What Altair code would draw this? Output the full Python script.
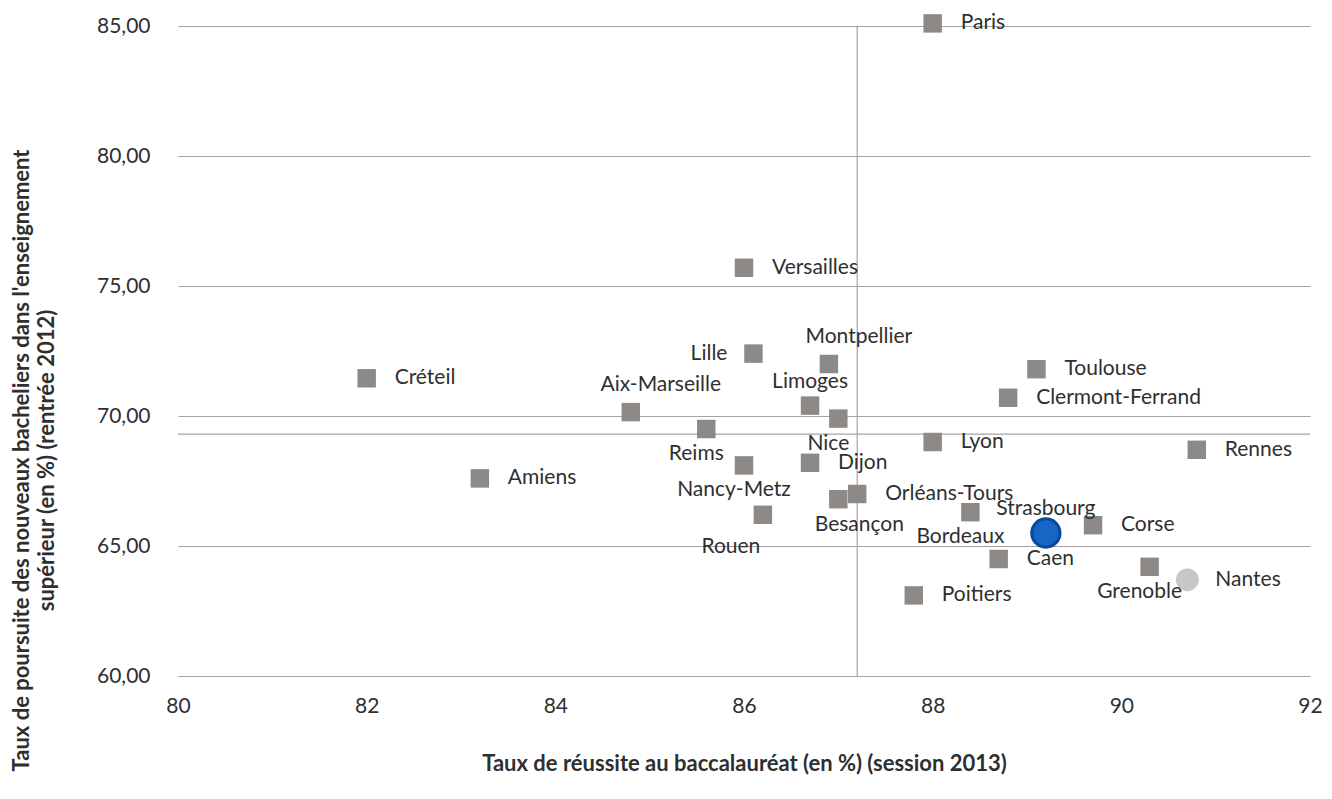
import altair as alt
import pandas as pd

academies = ["Paris", "Versailles", "Montpellier", "Lille", "Créteil", "Aix-Marseille",
             "Limoges", "Nice", "Reims", "Nancy-Metz", "Dijon", "Amiens", "Rouen",
             "Besançon", "Orléans-Tours", "Lyon", "Toulouse", "Clermont-Ferrand",
             "Rennes", "Strasbourg", "Bordeaux", "Caen", "Corse", "Grenoble",
             "Nantes", "Poitiers"]
bac_2013 = [88.0, 86.0, 86.9, 86.1, 82.0, 84.8,
            86.7, 87.0, 85.6, 86.0, 86.7, 83.2, 86.2,
            87.0, 87.2, 88.0, 89.1, 88.8,
            90.8, 89.2, 88.4, 88.7, 89.7, 90.3,
            90.7, 87.8]
poursuite_2012 = [85.1, 75.7, 72.0, 72.4, 71.45, 70.15,
                  70.4, 69.9, 69.5, 68.1, 68.2, 67.6, 66.2,
                  66.8, 67.0, 69.0, 71.8, 70.7,
                  68.7, 65.5, 66.3, 64.5, 65.8, 64.2,
                  63.7, 63.1]
label_side = ["right", "right", "above-right", "left", "right", "above-right",
              "above", "below", "below", "below", "right", "right", "below-left",
              "below-right", "right", "right", "right", "right",
              "right", "above", "below", "right", "right", "below",
              "right", "right"]
marker_kind = ["square"] * 19 + ["focus"] + ["square"] * 4 + ["light"] + ["square"]

mean_bac = 87.2
mean_poursuite = 69.3

x_ticks = [80, 82, 84, 86, 88, 90, 92]
y_ticks = [60, 65, 70, 75, 80, 85]

df = pd.DataFrame({
    "academie": academies,
    "bac": bac_2013,
    "poursuite": poursuite_2012,
    "side": label_side,
    "kind": marker_kind,
})

FONT = "Lato"
GRID = "#a3a3a3"
TXT = "#2f2f2f"

xscale = alt.Scale(domain=[80, 92], nice=False, zero=False)
yscale = alt.Scale(domain=[60, 85], nice=False, zero=False)

base = alt.Chart(df)

x_enc = alt.X("bac:Q", scale=xscale, axis=alt.Axis(
    values=x_ticks, format="d", grid=False, domain=False, ticks=False,
    labelFlush=False, labelOverlap=False,
    labelFont=FONT, labelFontSize=21, labelColor=TXT, labelPadding=19,
    title="Taux de réussite au baccalauréat (en %) (session 2013)",
    titleFont=FONT, titleFontSize=22, titleFontWeight="bold", titleColor=TXT,
    titleY=87, titleBaseline="middle"))
y_enc = alt.Y("poursuite:Q", scale=yscale, axis=alt.Axis(
    values=y_ticks, grid=True, gridColor=GRID, gridWidth=1.2,
    domain=False, ticks=False, labelFlush=False, labelOverlap=False,
    labelFont=FONT, labelFontSize=21, labelColor=TXT, labelPadding=28,
    labelExpr="replace(format(datum.value, '.2f'), '.', ',')",
    title=["Taux de poursuite des nouveaux bacheliers dans l'enseignement",
           "supérieur (en %) (rentrée 2012)"],
    titleFont=FONT, titleFontSize=22, titleFontWeight="bold", titleColor=TXT,
    titleX=-167, titleY=434, titleAngle=-90, titleAlign="center",
    titleBaseline="top", titleLineHeight=25))

vline = alt.Chart(pd.DataFrame({"v": [mean_bac]})).mark_rule(
    color=GRID, strokeWidth=1.2).encode(x=alt.X("v:Q", scale=xscale))
hline = alt.Chart(pd.DataFrame({"v": [mean_poursuite]})).mark_rule(
    color=GRID, strokeWidth=1.2).encode(y=alt.Y("v:Q", scale=yscale))

squares = base.transform_filter(alt.datum.kind != "light").mark_point(
    shape="square", filled=True, size=340, color="#8d8986", opacity=1).encode(
    x=x_enc, y=y_enc)
focus = base.transform_filter(alt.datum.kind == "focus").mark_point(
    shape="circle", filled=True, size=800, fill="#1766c6", stroke="#0b4898",
    strokeWidth=3, opacity=1).encode(x="bac:Q", y="poursuite:Q")
light = base.transform_filter(alt.datum.kind == "light").mark_point(
    shape="circle", filled=True, size=520, color="#c9c7c5", opacity=1).encode(
    x="bac:Q", y="poursuite:Q")

placements = {
    "right": dict(dx=28, dy=0, align="left"),
    "left": dict(dx=-26, dy=0, align="right"),
    "above": dict(dx=0, dy=-24, align="center"),
    "above-right": dict(dx=30, dy=-27, align="center"),
    "below": dict(dx=-10, dy=25, align="center"),
    "below-left": dict(dx=-32, dy=32, align="center"),
    "below-right": dict(dx=21, dy=26, align="center"),
}

label_layers = []
for side, opts in placements.items():
    label_layers.append(
        base.transform_filter(alt.datum.side == side).mark_text(
            font=FONT, fontSize=21, color=TXT, baseline="middle", **opts
        ).encode(x="bac:Q", y="poursuite:Q", text="academie:N")
    )

chart = alt.layer(vline, hline, squares, light, focus, *label_layers).properties(
    width=1132, height=650,
    padding={"left": 170, "top": 18, "right": 14, "bottom": 100},
    autosize=alt.AutoSizeParams(type="none"),
    background="white",
).configure_view(stroke=None)

chart.save("out.html", embed_options={"renderer": "svg", "actions": False})
